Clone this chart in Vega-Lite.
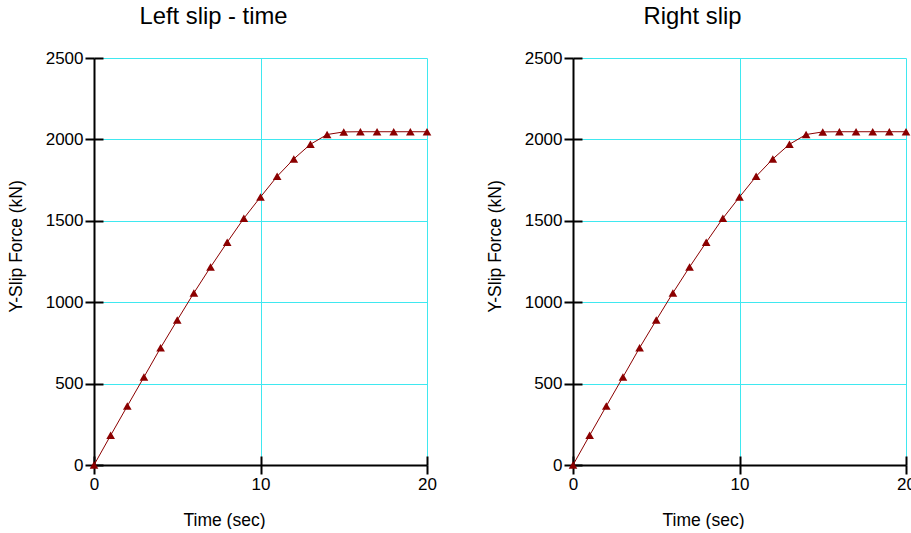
{
  "$schema": "https://vega.github.io/schema/vega-lite/v6.json",
  "padding": {"left": 7, "top": 5, "right": 0, "bottom": 0},
  "background": "white",
  "data": {"values": [
    {"t": 0, "f": 0}, {"t": 1, "f": 182}, {"t": 2, "f": 362}, {"t": 3, "f": 540},
    {"t": 4, "f": 720}, {"t": 5, "f": 890}, {"t": 6, "f": 1057}, {"t": 7, "f": 1216},
    {"t": 8, "f": 1368}, {"t": 9, "f": 1515}, {"t": 10, "f": 1646}, {"t": 11, "f": 1773},
    {"t": 12, "f": 1880}, {"t": 13, "f": 1970}, {"t": 14, "f": 2030}, {"t": 15, "f": 2046},
    {"t": 16, "f": 2047}, {"t": 17, "f": 2047}, {"t": 18, "f": 2047}, {"t": 19, "f": 2047},
    {"t": 20, "f": 2047}
  ]},
  "spacing": 49,
  "config": {
    "font": "Liberation Sans",
    "view": {"stroke": null},
    "axis": {
      "domainColor": "black", "domainWidth": 2, "tickColor": "black", "tickWidth": 2,
      "labelColor": "black", "titleColor": "black", "labelFontSize": 17, "titleFontSize": 17.5,
      "titleFontWeight": "normal", "gridColor": "#3fe8f0", "gridWidth": 1, "gridOpacity": 1,
      "labelPadding": 2, "zindex": 0
    },
    "title": {"fontSize": 23.8, "fontWeight": "normal", "color": "black", "dx": -47, "offset": 20}
  },
  "hconcat": [
    {
      "title": "Left slip - time",
      "width": 333, "height": 407,
      "layer": [
        {"mark": {"type": "line", "color": "#8b0000", "strokeWidth": 1},
         "encoding": {
           "x": {"field": "t", "type": "quantitative", "scale": {"domain": [0, 20], "nice": false},
                 "axis": {"orient": "bottom", "values": [0, 10, 20], "format": "d", "tickSize": 9, "grid": true, "gridColor": "#3fe8f0", "title": "Time (sec)", "titleX": 130, "titlePadding": 19, "labelFlush": false}},
           "y": {"field": "f", "type": "quantitative", "scale": {"domain": [0, 2500], "nice": false},
                 "axis": {"orient": "left", "values": [0, 500, 1000, 1500, 2000, 2500], "format": "d", "tickSize": 9, "grid": true, "gridColor": "#3fe8f0", "title": "Y-Slip Force (kN)", "titleY": 188, "titlePadding": 20}}
         }},
        {"mark": {"type": "point", "shape": "triangle-up", "filled": true, "color": "#8b0000", "size": 75, "opacity": 1},
         "encoding": {
           "x": {"field": "t", "type": "quantitative",
                 "axis": {"orient": "bottom", "values": [0, 10, 20], "tickSize": -9, "domain": false, "labels": false, "grid": false, "title": null}},
           "y": {"field": "f", "type": "quantitative",
                 "axis": {"orient": "left", "values": [0, 500, 1000, 1500, 2000, 2500], "tickSize": -9, "domain": false, "labels": false, "grid": false, "title": null}}
         }}
      ],
      "resolve": {"axis": {"x": "independent", "y": "independent"}}
    },
    {
      "title": "Right slip",
      "width": 333, "height": 407,
      "layer": [
        {"mark": {"type": "line", "color": "#8b0000", "strokeWidth": 1},
         "encoding": {
           "x": {"field": "t", "type": "quantitative", "scale": {"domain": [0, 20], "nice": false},
                 "axis": {"orient": "bottom", "values": [0, 10, 20], "format": "d", "tickSize": 9, "grid": true, "gridColor": "#3fe8f0", "title": "Time (sec)", "titleX": 130, "titlePadding": 19, "labelFlush": false}},
           "y": {"field": "f", "type": "quantitative", "scale": {"domain": [0, 2500], "nice": false},
                 "axis": {"orient": "left", "values": [0, 500, 1000, 1500, 2000, 2500], "format": "d", "tickSize": 9, "grid": true, "gridColor": "#3fe8f0", "title": "Y-Slip Force (kN)", "titleY": 188, "titlePadding": 20}}
         }},
        {"mark": {"type": "point", "shape": "triangle-up", "filled": true, "color": "#8b0000", "size": 75, "opacity": 1},
         "encoding": {
           "x": {"field": "t", "type": "quantitative",
                 "axis": {"orient": "bottom", "values": [0, 10, 20], "tickSize": -9, "domain": false, "labels": false, "grid": false, "title": null}},
           "y": {"field": "f", "type": "quantitative",
                 "axis": {"orient": "left", "values": [0, 500, 1000, 1500, 2000, 2500], "tickSize": -9, "domain": false, "labels": false, "grid": false, "title": null}}
         }}
      ],
      "resolve": {"axis": {"x": "independent", "y": "independent"}}
    }
  ]
}
